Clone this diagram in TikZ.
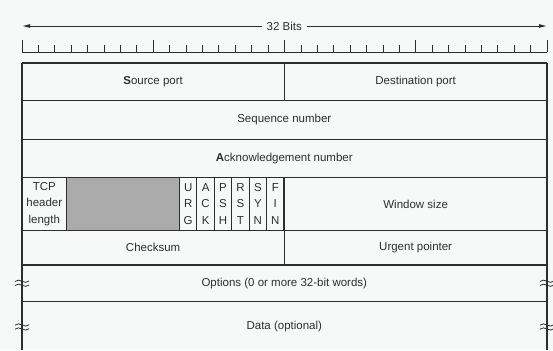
\documentclass[tikz,border=0pt]{standalone}
\usepackage{fontspec}
\setmainfont{Liberation Sans}
\usetikzlibrary{arrows.meta}

\definecolor{paper}{HTML}{F7F9F8}
\definecolor{ink}{HTML}{2E2E2E}
\definecolor{reserved}{HTML}{ABABAB}

\begin{document}
\begin{tikzpicture}[x=1pt,y=-1pt,line width=1.1pt,
  field/.style={inner sep=0pt,font=\fontsize{11.5}{16.5}\selectfont,text=ink,align=center},
  breakmark/.style={line width=0.8pt,draw=ink}]

\def \xl {22}
\def \xr {547}
\def \xm {284.3}
\def \bit {16.40625}
\def \flagl {179.5}
\def \flagw {17.42}

\fill[paper] (0,0) rectangle (553,350);
\useasboundingbox (0,0) rectangle (553,350);

% ruler with the 32 bit arrow
\coordinate (bitsL) at (\xl,26);
\coordinate (bitsR) at (\xr,26);
\draw[ink,line width=0.9pt,{Latex[length=8pt,width=4pt]}-{Latex[length=8pt,width=4pt]}] (bitsL) -- (bitsR);
\node[field,fill=paper,inner xsep=5pt,inner ysep=2pt] (bits) at (\xm,26) {32 Bits};

\draw[ink,line width=0.8pt] (\xl,52) -- (\xr,52);
\foreach \i in {0,...,32}
{
  \pgfmathsetmacro{\h}{mod(\i,8)==0 ? 12 : 7}
  \draw[ink,line width=0.8pt] ({\xl+\i*\bit},52) -- ++(0,-\h);
}

% reserved bits
\fill[reserved] (66.7,177.3) rectangle (\flagl,230.5);

% header rows
\foreach \y in {63,100.7,139.3,177.3,230.5,265,301.7}
  \draw[ink] (\xl,\y) -- (\xr,\y);
\draw[ink] (\xl,63) -- (\xl,350);
\draw[ink] (\xr,63) -- (\xr,350);
\draw[ink] (\xm,63) -- (\xm,100.7);
\draw[ink] (\xm,230.5) -- (\xm,265);
\draw[ink] (66.7,177.3) -- (66.7,230.5);
\foreach \s in {0,...,6}
  \draw[ink] ({\flagl+\s*\flagw},177.3) -- ({\flagl+\s*\flagw},230.5);

\begin{scope}[every node/.style={field}]
\node (src) at ({(\xl+\xm)/2},81.9) {\textbf{S}ource port};
\node (dst) at ({(\xm+\xr)/2},81.9) {Destination port};
\node (seq) at (\xm,120) {Sequence number};
\node (ack) at (\xm,158.3) {\textbf{A}cknowledgement number};
\node (hlen) at (44.3,203.9) {TCP\\header\\length};
\foreach \f [count=\s] in {U\\R\\G, A\\C\\K, P\\S\\H, R\\S\\T, S\\Y\\N, F\\I\\N}
  \node (flag\s) at ({\flagl+(\s-0.5)*\flagw},203.9) {\f};
\node (win) at ({(\xm+\xr)/2},203.9) {Window size};
\node (chk) at ({(\xl+\xm)/2},247.7) {Checksum};
\node (urg) at ({(\xm+\xr)/2},247.7) {Urgent pointer};
\node (opt) at (\xm,283.4) {Options (0 or more 32-bit words)};
\node (data) at (\xm,326.7) {Data (optional)};
\end{scope}

% breaks in the side lines
\foreach \x in {\xl,\xr}
  \foreach \y in {283,326.7}
  {
    \draw[breakmark] (\x-7,\y-1.5) .. controls (\x-3,\y-6) and (\x+3,\y+2.5) .. (\x+7,\y-2);
    \draw[breakmark] (\x-7,\y+2.5) .. controls (\x-3,\y-2) and (\x+3,\y+6.5) .. (\x+7,\y+2);
  }

\end{tikzpicture}
\end{document}
